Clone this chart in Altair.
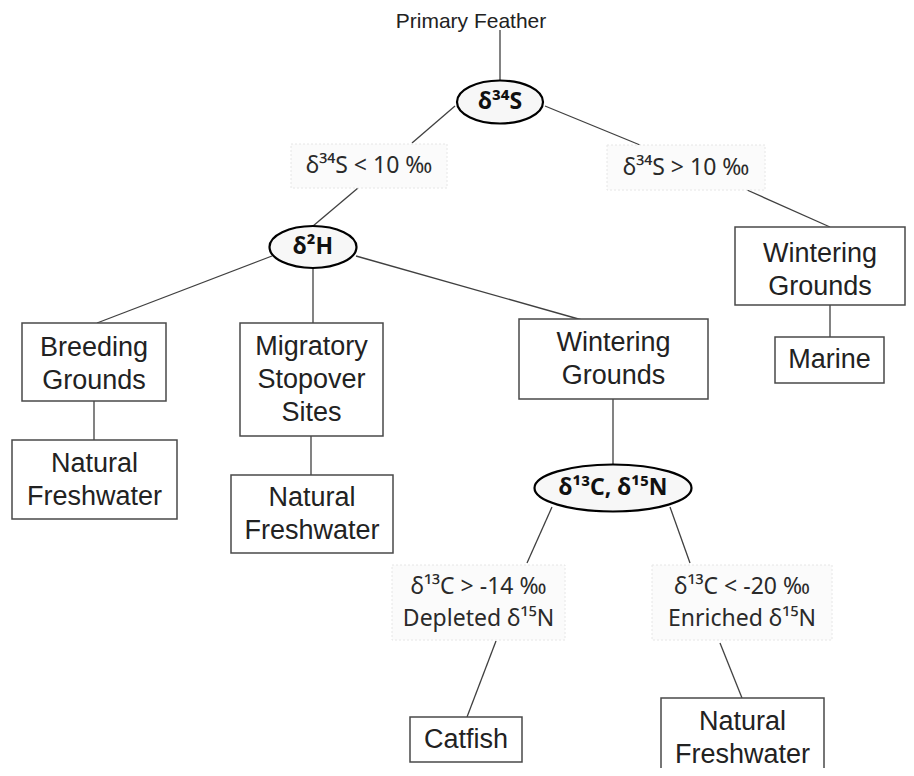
import altair as alt
import pandas as pd

# ---- data (positions in the diagram's pixel space) ----
root_text = ["Primary Feather"]
root_x = [471]
root_y = [22]

box_text = ["Breeding\nGrounds", "Natural\nFreshwater", "Migratory\nStopover\nSites",
            "Natural\nFreshwater", "Wintering\nGrounds", "Wintering\nGrounds",
            "Marine", "Catfish", "Natural\nFreshwater"]
box_x1 = [22, 12, 240, 231, 519, 735, 775, 410, 661]
box_x2 = [166, 177, 383, 393, 708, 905, 884, 522, 824]
box_y1 = [323, 440, 323, 475, 319, 227, 337, 717, 698]
box_y2 = [401, 519, 436, 553, 399, 305, 383, 762, 778]
box_cy = [364, 480, 380, 514, 359, 270, 360, 740, 738]

ell_text = ["δ³⁴S", "δ²H", "δ¹³C, δ¹⁵N"]
ell_x = [500, 313, 613]
ell_y = [102, 247, 488]
ell_w = [86, 87, 157]
ell_h = [43, 42, 47]

cond_text = ["δ³⁴S < 10 ‰", "δ³⁴S > 10 ‰",
             "δ¹³C > -14 ‰\nDepleted δ¹⁵N", "δ¹³C < -20 ‰\nEnriched δ¹⁵N"]
cond_x1 = [291, 607, 392, 652]
cond_x2 = [447, 765, 565, 832]
cond_y1 = [144, 145, 565, 565]
cond_y2 = [188, 190, 640, 640]

edge_x1 = [500, 455, 545, 358, 747, 272, 313, 356, 94, 311, 613, 830, 552, 670, 496, 720]
edge_y1 = [30, 106, 106, 188, 190, 256, 268, 256, 401, 436, 399, 305, 507, 507, 641, 643]
edge_x2 = [500, 412, 640, 313, 830, 97, 313, 582, 94, 311, 613, 830, 527, 690, 467, 742]
edge_y2 = [81, 143, 145, 226, 227, 323, 323, 320, 440, 475, 465, 337, 563, 563, 717, 698]

BOX_LH = 33
COND_LH = 32


def first_line_y(cy, text, lh):
    n = text.count("\n") + 1
    return cy - (n - 1) * lh / 2


# ---- tables ----
boxes = pd.DataFrame({"t": box_text, "x1": box_x1, "x2": box_x2, "y1": box_y1, "y2": box_y2,
                      "tx": [(a + b) / 2 for a, b in zip(box_x1, box_x2)],
                      "ty": [first_line_y(c, t, BOX_LH) for c, t in zip(box_cy, box_text)]})
conds = pd.DataFrame({"t": cond_text, "x1": cond_x1, "x2": cond_x2, "y1": cond_y1, "y2": cond_y2,
                      "tx": [(a + b) / 2 for a, b in zip(cond_x1, cond_x2)],
                      "ty": [first_line_y((a + b) / 2, t, COND_LH)
                             for a, b, t in zip(cond_y1, cond_y2, cond_text)]})
k = 0.5523


def ellipse_path(w, h):
    r = h / w
    return (f"M -1 0 C -1 {-r*k:.4f} {-k} {-r:.4f} 0 {-r:.4f} "
            f"C {k} {-r:.4f} 1 {-r*k:.4f} 1 0 "
            f"C 1 {r*k:.4f} {k} {r:.4f} 0 {r:.4f} "
            f"C {-k} {r:.4f} -1 {r*k:.4f} -1 0 Z")


ells = pd.DataFrame({"t": ell_text, "x": ell_x, "y": ell_y,
                     "size": [w * w for w in ell_w],
                     "path": [ellipse_path(w, h) for w, h in zip(ell_w, ell_h)]})
edges = pd.DataFrame({"x1": edge_x1, "y1": edge_y1, "x2": edge_x2, "y2": edge_y2})
root = pd.DataFrame({"t": root_text, "x": root_x, "y": root_y})

xs = alt.Scale(domain=[8, 906], nice=False, zero=False)
ys = alt.Scale(domain=[8, 768], nice=False, zero=False, reverse=True)

edge_layer = alt.Chart(edges).mark_rule(color="#404040", strokeWidth=1.3).encode(
    x=alt.X("x1:Q", scale=xs, axis=None), y=alt.Y("y1:Q", scale=ys, axis=None),
    x2="x2:Q", y2="y2:Q")

cond_bg = alt.Chart(conds).mark_rect(fill="#fbfbfb", stroke="#e6e6e6", strokeWidth=1,
                                     strokeDash=[2, 2]).encode(
    x=alt.X("x1:Q", scale=xs, axis=None), x2="x2:Q",
    y=alt.Y("y1:Q", scale=ys, axis=None), y2="y2:Q")

cond_txt = alt.Chart(conds).mark_text(font="Noto Sans", fontSize=23, color="#2a2a2a",
                                      lineBreak="\n", lineHeight=COND_LH, baseline="middle",
                                      align="center").encode(
    x=alt.X("tx:Q", scale=xs, axis=None), y=alt.Y("ty:Q", scale=ys, axis=None), text="t:N")

box_rect = alt.Chart(boxes).mark_rect(fill="white", stroke="#4a4a4a", strokeWidth=1.5).encode(
    x=alt.X("x1:Q", scale=xs, axis=None), x2="x2:Q",
    y=alt.Y("y1:Q", scale=ys, axis=None), y2="y2:Q")

box_txt = alt.Chart(boxes).mark_text(font="Liberation Sans", fontSize=27, color="#222222",
                                     lineBreak="\n", lineHeight=BOX_LH, baseline="middle",
                                     align="center").encode(
    x=alt.X("tx:Q", scale=xs, axis=None), y=alt.Y("ty:Q", scale=ys, axis=None), text="t:N")

ell_mark = alt.Chart(ells).mark_point(filled=False, fill="#f7f7f7", fillOpacity=1,
                                      stroke="black", strokeWidth=2.2, opacity=1).encode(
    x=alt.X("x:Q", scale=xs, axis=None), y=alt.Y("y:Q", scale=ys, axis=None),
    shape=alt.Shape("path:N", scale=None), size=alt.Size("size:Q", scale=None))

ell_txt = alt.Chart(ells).mark_text(font="Noto Sans", fontSize=23, fontWeight="bold",
                                    color="#111111", baseline="middle", align="center").encode(
    x=alt.X("x:Q", scale=xs, axis=None), y=alt.Y("y:Q", scale=ys, axis=None), text="t:N")

root_txt = alt.Chart(root).mark_text(font="Liberation Sans", fontSize=21, color="#222222",
                                     baseline="middle", align="center").encode(
    x=alt.X("x:Q", scale=xs, axis=None), y=alt.Y("y:Q", scale=ys, axis=None), text="t:N")

chart = alt.layer(edge_layer, cond_bg, cond_txt, box_rect, box_txt, ell_mark, ell_txt,
                  root_txt).properties(
    width=898, height=760, padding=0, autosize=alt.AutoSizeParams(type="none"),
    background="white"
).configure_view(stroke=None)

chart.save("out.html", embed_options={"renderer": "svg", "actions": False})
